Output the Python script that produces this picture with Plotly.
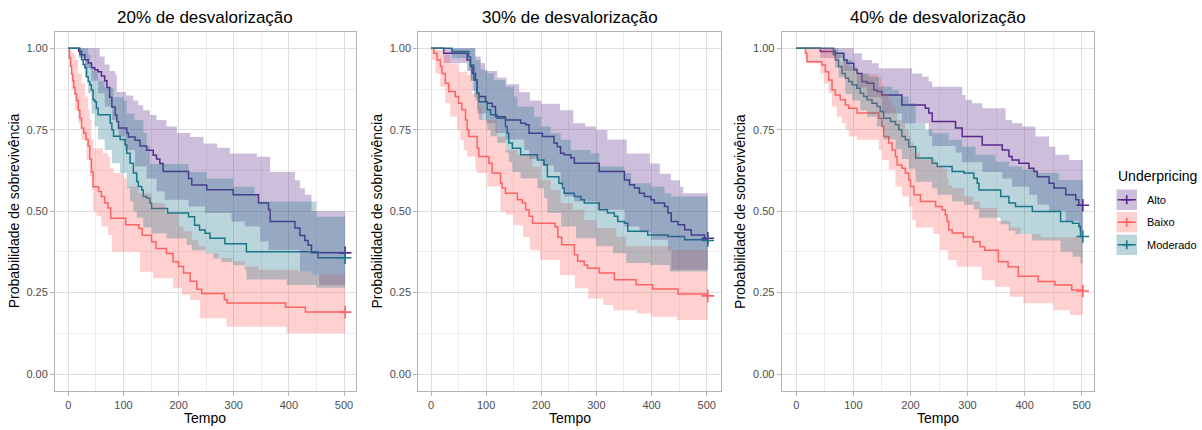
import plotly.graph_objects as go

# ---------------------------------------------------------------------------
# Kaplan-Meier estimates and 95% confidence limits, (tempo, sobrevivência)
# pairs; each value holds from its time until the next one.
# ---------------------------------------------------------------------------
GROUPS = ["Alto", "Baixo", "Moderado"]
PANEL_TITLES = ["20% de desvalorização", "30% de desvalorização", "40% de desvalorização"]
X_TICKS = [0, 100, 200, 300, 400, 500]
Y_TICKS = [0.0, 0.25, 0.5, 0.75, 1.0]
Y_TICK_LABELS = ["0.00", "0.25", "0.50", "0.75", "1.00"]

# --- 20% ---
ALTO_20 = [(0, 1.0), (19, .99), (24, .98), (30, .965), (36, .955), (42, .94), (48, .934), (54, .928), (60, .915),
           (66, .90), (70, .88), (75, .85), (79, .82), (85, .795), (88, .775), (91, .755), (106, .74), (109, .728),
           (121, .718), (130, .70), (142, .687), (154, .672), (160, .66), (166, .646), (172, .622), (218, .60),
           (224, .58), (251, .566), (299, .55), (345, .525), (363, .505), (366, .468), (411, .448), (420, .425),
           (429, .41), (435, .395), (441, .372), (502, .372)]
ALTO_20_HI = [(0, 1.0), (50, 1.0), (57, .975), (66, .95), (75, .93), (85, .92), (88, .866), (105, .855), (118, .84),
              (127, .825), (136, .81), (148, .795), (160, .78), (178, .76), (197, .74), (221, .728), (245, .708),
              (270, .695), (293, .677), (342, .667), (366, .62), (411, .595), (420, .57), (429, .55), (441, .50),
              (502, .50)]
ALTO_20_LO = [(0, 1.0), (19, .97), (30, .94), (42, .90), (54, .862), (66, .821), (79, .78), (91, .729), (103, .688),
              (121, .637), (142, .60), (160, .56), (175, .535), (218, .514), (248, .494), (296, .468), (320, .453),
              (348, .407), (363, .381), (420, .315), (441, .305), (455, .273), (502, .273)]
BAIXO_20 = [(0, 1.0), (2, .97), (4, .945), (6, .92), (8, .90), (10, .88), (12, .86), (15, .84), (18, .81), (21, .785),
            (24, .755), (28, .74), (32, .72), (36, .70), (39, .66), (42, .62), (45, .575), (55, .56), (60, .545),
            (66, .525), (72, .51), (77, .478), (104, .458), (128, .447), (134, .426), (151, .406), (159, .385),
            (178, .37), (190, .345), (200, .33), (209, .31), (221, .285), (233, .26), (242, .247), (283, .228),
            (288, .218), (394, .205), (430, .19), (502, .19)]
BAIXO_20_HI = [(0, 1.0), (3, .995), (6, .985), (12, .964), (18, .923), (24, .893), (30, .852), (36, .811), (39, .78),
               (42, .719), (45, .693), (63, .678), (72, .668), (76, .632), (82, .617), (100, .601), (106, .576),
               (127, .555), (151, .525), (175, .494), (200, .453), (209, .438), (224, .412), (236, .392), (248, .371),
               (272, .356), (296, .346), (320, .33), (345, .32), (417, .315), (441, .305), (502, .305)]
BAIXO_20_LO = [(0, 1.0), (1, .97), (3, .944), (6, .872), (12, .811), (18, .77), (24, .719), (33, .657), (39, .606),
               (42, .565), (45, .499), (51, .484), (60, .453), (72, .427), (79, .375), (130, .314), (154, .294),
               (190, .263), (206, .243), (221, .227), (239, .171), (287, .145), (396, .125), (502, .124)]
MODERADO_20 = [(0, 1.0), (21, .98), (24, .965), (27, .95), (30, .94), (33, .913), (36, .898), (39, .888), (42, .872),
               (45, .842), (48, .836), (51, .816), (54, .796), (76, .77), (79, .75), (82, .73), (94, .72), (103, .703),
               (106, .678), (112, .647), (118, .617), (124, .591), (127, .576), (133, .565), (136, .545), (142, .54),
               (148, .525), (151, .508), (180, .494), (218, .483), (229, .457), (238, .442), (248, .432), (257, .417),
               (284, .40), (323, .375), (453, .357), (502, .357)]
MODERADO_20_HI = [(0, 1.0), (33, 1.0), (36, .98), (40, .95), (45, .93), (54, .90), (66, .88), (82, .85), (100, .84),
                  (106, .80), (120, .78), (136, .74), (142, .70), (148, .645), (218, .62), (251, .60), (299, .575),
                  (338, .55), (345, .53), (450, .483), (502, .483)]
MODERADO_20_LO = [(0, 1.0), (21, .99), (24, .964), (30, .913), (36, .862), (42, .80), (48, .76), (54, .72), (66, .688),
                  (79, .647), (94, .617), (106, .57), (112, .53), (118, .50), (124, .48), (136, .45), (151, .431),
                  (178, .416), (215, .396), (224, .38), (248, .37), (263, .355), (278, .344), (299, .334), (320, .319),
                  (323, .29), (396, .273), (450, .265), (502, .263)]

# --- 30% ---
ALTO_30 = [(0, 1.0), (23, .985), (65.5, .964), (71.6, .944), (74.6, .923), (80.7, .903), (83.7, .862), (86.8, .852),
           (99, .836), (102, .831), (111, .821), (117, .79), (135, .78), (162.6, .77), (171.7, .765), (177.8, .739),
           (202, .729), (223, .709), (229, .698), (235, .678), (241.5, .673), (253.6, .663), (260, .647), (305, .622),
           (350.7, .596), (360, .581), (369, .571), (378, .555), (387, .545), (399, .535), (405, .525), (423.5, .514),
           (429.6, .494), (435.7, .468), (448, .458), (460, .443), (472, .427), (496, .417), (502, .417)]
ALTO_30_HI = [(0, 1.0), (75, 1.0), (80, .975), (90, .955), (98, .93), (120, .91), (137, .89), (160, .865),
              (179.5, .84), (200, .83), (234, .81), (258, .77), (280, .76), (300, .749), (320, .72), (355, .677),
              (397, .646), (415, .615), (435, .595), (451.6, .575), (457.6, .555), (502, .555)]
ALTO_30_LO = [(0, 1.0), (23, .955), (65.5, .93), (72, .90), (75, .87), (81, .84), (84, .80), (100, .77), (117, .74),
              (135, .72), (169, .688), (178, .66), (202, .64), (223, .62), (235, .58), (241.5, .545), (260, .53),
              (302, .504), (351, .453), (378, .435), (399, .412), (430, .381), (436, .32), (502, .315)]
BAIXO_30 = [(0, 1.0), (5, .985), (11, .964), (17, .944), (20, .923), (26, .893), (32, .867), (44, .852), (50, .831),
            (56, .811), (62.5, .78), (65.5, .75), (68.6, .729), (83.7, .693), (86.8, .668), (105, .647), (111, .617),
            (126, .586), (129, .571), (135, .555), (156.6, .535), (165.7, .525), (171.7, .504), (177.8, .484),
            (184, .463), (225, .452), (230, .42), (237, .397), (260, .366), (266, .346), (278, .335), (284, .325),
            (305, .31), (332.5, .289), (372, .274), (402, .261), (448, .246), (502, .24)]
BAIXO_30_HI = [(0, 1.0), (11, .995), (23, .98), (35, .954), (50, .928), (65.5, .918), (74.6, .862), (86.8, .821),
               (93, .78), (120, .729), (135, .688), (156.6, .673), (184, .637), (199, .596), (217, .565), (235, .525),
               (257, .504), (278, .473), (300, .448), (336, .422), (354, .392), (433, .381), (502, .381)]
BAIXO_30_LO = [(0, 1.0), (2, .964), (8, .923), (17, .882), (26, .831), (35, .79), (47, .75), (53, .719), (59.5, .688),
               (65.5, .668), (80.7, .627), (83.7, .617), (102, .576), (126, .50), (135, .49), (149, .457), (167, .421),
               (179.5, .38), (197.7, .35), (234, .304), (261, .263), (285, .232), (312.5, .212), (330.6, .196),
               (373, .186), (400, .176), (446, .166), (502, .165)]
MODERADO_30 = [(0, 1.0), (38, .99), (68.6, .974), (71.6, .949), (77.7, .903), (83.7, .862), (86.8, .836), (102, .811),
               (108, .796), (120, .785), (135, .76), (138, .739), (141, .709), (147.5, .693), (162.6, .673), (193, .657),
               (205, .642), (211, .606), (232, .586), (238.5, .571), (241.5, .555), (260, .545), (272, .535),
               (278, .525), (305, .504), (320, .494), (332.5, .484), (338.6, .468), (350.7, .463), (357, .438),
               (393, .427), (429.6, .422), (460, .412), (502, .41)]
MODERADO_30_HI = [(0, 1.0), (77.7, 1.0), (80.7, .964), (89.8, .934), (102, .923), (114, .903), (135, .882),
                  (150.5, .852), (156.6, .821), (187, .79), (199, .76), (217, .739), (235, .719), (253.6, .688),
                  (290, .678), (305, .637), (350.7, .617), (363, .586), (399, .576), (423.5, .555), (435.7, .545),
                  (502, .54)]
MODERADO_30_LO = [(0, 1.0), (38, .97), (68.6, .93), (71.6, .90), (77.7, .85), (83.7, .81), (86.8, .78), (102, .75),
                  (108, .73), (120, .71), (135, .68), (141, .65), (147.5, .62), (162.6, .60), (193, .57), (205, .54),
                  (211, .494), (236, .453), (263, .417), (300, .392), (330, .371), (354, .341), (397, .335),
                  (433, .315), (502, .315)]

# --- 40% ---
ALTO_40 = [(0, 1.0), (42, .99), (68.4, .985), (83, .964), (89, .954), (100.6, .934), (106.4, .923), (115, .898),
           (124, .893), (135.7, .872), (141.5, .867), (150, .857), (185, .826), (226, .816), (232, .801), (238, .775),
           (279, .755), (290.6, .729), (325.7, .703), (360.8, .688), (372.5, .668), (378, .657), (390, .647),
           (407.6, .632), (416, .622), (422, .606), (442.7, .586), (451.5, .571), (472, .55), (489.5, .535),
           (495, .518), (502, .518)]
ALTO_40_HI = [(0, 1.0), (100, 1.0), (100.6, .985), (115, .964), (132.7, .954), (144.4, .939), (203, .923),
              (220.5, .913), (232, .898), (238, .882), (290.6, .857), (296.5, .842), (308, .831), (325.7, .816),
              (366.7, .78), (378, .77), (396, .76), (419, .729), (442.7, .698), (454, .673), (478, .657), (502, .65)]
ALTO_40_LO = [(0, 1.0), (42, .97), (83, .93), (106, .88), (124, .85), (150, .80), (185, .77), (232, .73), (238, .70),
              (279, .68), (290, .65), (326, .62), (361, .60), (378, .575), (408, .55), (422, .52), (443, .50),
              (472, .47), (495, .44), (502, .44)]
BAIXO_40 = [(0, 1.0), (16, .985), (18.7, .959), (45, .949), (51, .928), (56.7, .903), (62.6, .872), (68.4, .857),
            (77, .842), (86, .826), (91.8, .816), (106.4, .801), (144.4, .785), (150, .76), (153, .729), (162, .709),
            (168, .688), (173.7, .668), (176.6, .642), (185, .632), (191, .617), (197, .596), (200, .576), (206, .55),
            (217.5, .53), (244, .514), (255.6, .504), (261, .489), (264, .468), (267, .443), (273, .433),
            (292.6, .421), (310, .406), (322, .391), (330, .38), (354, .345), (371, .329), (389, .30), (424, .284),
            (453, .273), (482.5, .258), (502, .255)]
BAIXO_40_HI = [(0, 1.0), (62.6, 1.0), (68, .98), (77, .96), (86, .95), (92, .94), (106, .92), (144, .91), (150, .89),
               (153, .86), (162, .84), (168, .82), (174, .80), (177, .78), (185, .77), (191, .75), (197, .73),
               (200, .71), (206, .68), (217, .66), (244, .64), (256, .63), (264, .60), (267, .58), (273, .57),
               (294, .545), (310, .53), (322, .51), (352, .47), (375, .45), (393, .43), (428, .42), (502, .42)]
BAIXO_40_LO = [(0, 1.0), (16, .97), (18.7, .954), (42, .923), (48, .893), (56.7, .862), (62.6, .821), (71, .79),
               (80, .77), (86, .75), (91.8, .729), (106.4, .719), (144.4, .688), (150, .657), (162, .627),
               (173.7, .576), (185, .545), (197, .514), (203, .473), (209, .45), (240, .43), (251.8, .38), (266, .35),
               (281, .329), (324.8, .288), (348, .268), (374, .237), (397.7, .217), (450, .196), (479.5, .181),
               (502, .175)]
MODERADO_40 = [(0, 1.0), (65.5, .98), (68.4, .964), (74, .944), (80, .923), (86, .908), (91.8, .898), (97.7, .888),
               (106, .877), (112, .862), (118, .852), (124, .842), (132.7, .831), (141.5, .821), (147, .806),
               (153, .785), (165, .775), (173.7, .765), (179.5, .75), (185, .729), (191, .719), (197, .698),
               (209, .663), (238, .647), (246.8, .637), (273, .622), (293.6, .617), (311, .601), (317, .586),
               (320, .565), (358, .545), (372.5, .525), (384, .514), (413.5, .499), (463, .468), (484, .463),
               (495, .453), (498, .422), (502, .422)]
MODERADO_40_HI = [(0, 1.0), (70, 1.0), (74, .985), (86, .964), (97.7, .944), (106.4, .923), (127, .913),
                  (144.4, .882), (168, .872), (179.5, .852), (197, .831), (209, .77), (226, .75), (238, .739),
                  (267, .719), (290.6, .698), (314, .673), (349, .652), (372.5, .637), (396, .627), (419, .617),
                  (460, .596), (502, .586)]
MODERADO_40_LO = [(0, 1.0), (62.6, .98), (68, .94), (74, .91), (86, .86), (98, .84), (112, .81), (124, .79),
                  (141, .76), (153, .72), (174, .69), (185, .66), (197, .63), (209, .59), (238, .57), (247, .55),
                  (273, .53), (294, .52), (311, .505), (320, .48), (358, .46), (372, .44), (384, .43), (413, .41),
                  (463, .375), (484, .36), (498, .34), (502, .34)]

PANELS = [
    {"Alto": (ALTO_20, ALTO_20_LO, ALTO_20_HI), "Baixo": (BAIXO_20, BAIXO_20_LO, BAIXO_20_HI),
     "Moderado": (MODERADO_20, MODERADO_20_LO, MODERADO_20_HI)},
    {"Alto": (ALTO_30, ALTO_30_LO, ALTO_30_HI), "Baixo": (BAIXO_30, BAIXO_30_LO, BAIXO_30_HI),
     "Moderado": (MODERADO_30, MODERADO_30_LO, MODERADO_30_HI)},
    {"Alto": (ALTO_40, ALTO_40_LO, ALTO_40_HI), "Baixo": (BAIXO_40, BAIXO_40_LO, BAIXO_40_HI),
     "Moderado": (MODERADO_40, MODERADO_40_LO, MODERADO_40_HI)},
]

# ---------------------------------------------------------------------------
# Styling
# ---------------------------------------------------------------------------
W, H = 1202, 430
LINE_COLORS = {"Alto": "#58288C", "Baixo": "#FF6262", "Moderado": "#1A768A"}
FILL_RGB = {"Alto": (88, 40, 140), "Baixo": (255, 98, 98), "Moderado": (26, 118, 138)}
FILL_ALPHA = 0.3
FONT = "Liberation Sans, Arial, sans-serif"

# plot-area geometry (pixels) of the three panels
PANEL_PX = [(55.0, 355.5), (418.3, 720.7), (781.7, 1094.0)]
ZERO_PX = [(68.3, 344.0), (431.0, 706.7), (796.3, 1081.7)]  # pixel of t=0 and t=500
TOP_PX, BOTTOM_PX = 32.0, 390.5
Y1_PX, Y0_PX = 48.3, 374.0


def fill_rgba(g):
    r, gg, b = FILL_RGB[g]
    return f"rgba({r},{gg},{b},{FILL_ALPHA})"


def xs(pairs):
    return [p[0] for p in pairs]


def ys(pairs):
    return [p[1] for p in pairs]


fig = go.Figure()

for i, panel in enumerate(PANELS):
    xa = "x" if i == 0 else f"x{i + 1}"
    ya = "y" if i == 0 else f"y{i + 1}"
    # survival steps
    for g in GROUPS:
        est = panel[g][0]
        fig.add_trace(go.Scatter(x=xs(est), y=ys(est), mode="lines", line=dict(color=LINE_COLORS[g], width=1.5,
                                 shape="hv"), xaxis=xa, yaxis=ya, showlegend=False, hoverinfo="skip"))
    # confidence ribbons
    for g in GROUPS:
        _, lo, hi = panel[g]
        fig.add_trace(go.Scatter(x=xs(lo), y=ys(lo), mode="lines", line=dict(width=0, shape="hv"),
                                 xaxis=xa, yaxis=ya, showlegend=False, hoverinfo="skip"))
        fig.add_trace(go.Scatter(x=xs(hi), y=ys(hi), mode="lines", line=dict(width=0, shape="hv"),
                                 fill="tonexty", fillcolor=fill_rgba(g), xaxis=xa, yaxis=ya,
                                 showlegend=False, hoverinfo="skip"))
    # censoring marks at the end of follow-up
    for g in GROUPS:
        est = panel[g][0]
        fig.add_trace(go.Scatter(x=[est[-1][0]], y=[est[-1][1]], mode="markers",
                                 marker=dict(symbol="cross-thin", size=9, line=dict(color=LINE_COLORS[g], width=1.6)),
                                 xaxis=xa, yaxis=ya, showlegend=False, hoverinfo="skip"))

layout_axes = {}
annotations = []
for i in range(3):
    left, right = PANEL_PX[i]
    z0, z500 = ZERO_PX[i]
    ppu = (z500 - z0) / 500.0
    xr = [(left - z0) / ppu, (right - z0) / ppu]
    ppy = (Y0_PX - Y1_PX)
    yr = [-(BOTTOM_PX - Y0_PX) / ppy, 1 + (Y1_PX - TOP_PX) / ppy]
    suffix = "" if i == 0 else str(i + 1)
    common = dict(showline=True, mirror=True, linecolor="#B3B3B3", linewidth=1, zeroline=False,
                  showgrid=True, gridcolor="#DEDEDE", gridwidth=1, ticks="outside", ticklen=4,
                  tickcolor="#B3B3B3", tickwidth=1,
                  tickfont=dict(family=FONT, size=11, color="#4D4D4D"))
    layout_axes["xaxis" + suffix] = dict(domain=[left / W, right / W], range=xr, tickvals=X_TICKS,
                                         anchor="y" + suffix,
                                         minor=dict(dtick=50, tick0=0, showgrid=True, gridcolor="#EEEEEE",
                                                    gridwidth=1), **common)
    layout_axes["yaxis" + suffix] = dict(domain=[1 - BOTTOM_PX / H, 1 - TOP_PX / H], range=yr,
                                         tickvals=Y_TICKS, ticktext=Y_TICK_LABELS, anchor="x" + suffix,
                                         minor=dict(dtick=0.125, tick0=0, showgrid=True, gridcolor="#EEEEEE",
                                                    gridwidth=1), **common)
    cx = (left + right) / 2
    annotations.append(dict(text=PANEL_TITLES[i], x=cx / W, y=1 - 17 / H, xref="paper", yref="paper",
                            showarrow=False, font=dict(family=FONT, size=17, color="black"),
                            xanchor="center", yanchor="middle"))
    annotations.append(dict(text="Tempo", x=cx / W, y=1 - 418 / H, xref="paper", yref="paper",
                            showarrow=False, font=dict(family=FONT, size=14, color="black"),
                            xanchor="center", yanchor="middle"))
    annotations.append(dict(text="Probabilidade de sobrevivência", x=(left - 41) / W,
                            y=1 - ((TOP_PX + BOTTOM_PX) / 2) / H, xref="paper", yref="paper",
                            showarrow=False, textangle=-90, font=dict(family=FONT, size=14, color="black"),
                            xanchor="center", yanchor="middle"))

# legend drawn by hand to the right of the last panel
shapes = []
LEG_X0, LEG_X1 = 1116.5, 1137.0
KEY_TOPS = [189.5, 212.0, 234.5]
KEY_H = 20.5
annotations.append(dict(text="Underpricing", x=1116 / W, y=1 - 176 / H, xref="paper", yref="paper",
                        showarrow=False, font=dict(family=FONT, size=14, color="black"),
                        xanchor="left", yanchor="middle"))
for g, top in zip(GROUPS, KEY_TOPS):
    bot = top + KEY_H
    shapes.append(dict(type="rect", xref="paper", yref="paper", x0=LEG_X0 / W, x1=LEG_X1 / W,
                       y0=1 - bot / H, y1=1 - top / H, fillcolor=fill_rgba(g), line=dict(width=0)))
    mid = (top + bot) / 2
    cx = (LEG_X0 + LEG_X1) / 2
    shapes.append(dict(type="line", xref="paper", yref="paper", x0=(LEG_X0 + 1) / W, x1=(LEG_X1 - 1) / W,
                       y0=1 - mid / H, y1=1 - mid / H, line=dict(color=LINE_COLORS[g], width=1.5)))
    shapes.append(dict(type="line", xref="paper", yref="paper", x0=(cx - 4.5) / W, x1=(cx + 4.5) / W,
                       y0=1 - mid / H, y1=1 - mid / H, line=dict(color=LINE_COLORS[g], width=1.6)))
    shapes.append(dict(type="line", xref="paper", yref="paper", x0=cx / W, x1=cx / W,
                       y0=1 - (mid - 4.5) / H, y1=1 - (mid + 4.5) / H, line=dict(color=LINE_COLORS[g], width=1.6)))
    annotations.append(dict(text=g, x=1145 / W, y=1 - mid / H, xref="paper", yref="paper", showarrow=False,
                            font=dict(family=FONT, size=11, color="black"), xanchor="left", yanchor="middle"))

fig.update_layout(width=W, height=H, margin=dict(l=0, r=0, t=0, b=0), paper_bgcolor="white",
                  plot_bgcolor="white", showlegend=False, annotations=annotations, shapes=shapes,
                  **layout_axes)

fig.write_html("out.html")
